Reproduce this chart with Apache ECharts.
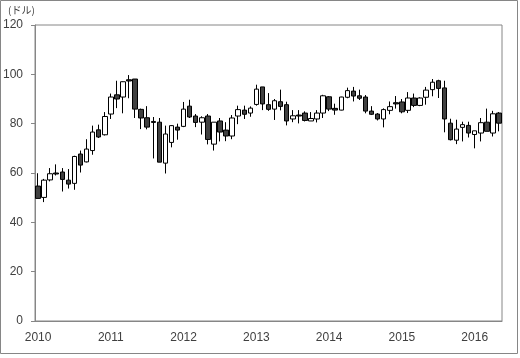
<!DOCTYPE html>
<html><head><meta charset="utf-8">
<script src="https://cdn.jsdelivr.net/npm/echarts@6/dist/echarts.min.js"></script>
<style>html,body{margin:0;padding:0;background:#fff}#c{width:520px;height:358px}</style>
</head><body><div id="c"></div>
<script>
const months = [];
for (let y = 2010; y <= 2016; y++) for (let m = 1; m <= 12; m++) { if (y === 2016 && m > 5) break; months.push(y + '/' + m); }
// [open, close, low, high]
const open  = [54.7,50.1,57.2,60.0,60.4,57.1,55.8,67.7,64.5,69.1,77.5,75.5,
               83.9,91.7,90.8,97.8,98.1,85.8,82.4,80.9,80.6,64.0,72.4,78.6,
               78.9,87.1,83.1,80.6,83.1,71.7,81.1,77.4,75.0,83.1,85.5,84.3,
               87.8,94.9,87.7,85.9,88.9,87.7,81.9,83.5,84.3,81.1,81.9,84.3,
               90.9,86.2,85.5,90.7,93.2,91.3,90.8,85.1,83.9,81.9,85.4,88.5,
               88.8,85.4,90.4,87.4,90.7,93.8,97.4,94.5,80.2,73.3,78.5,79.3,
               75.6,76.2,80.6,76.2,84.3];
const close = [49.7,57.1,59.7,59.6,57.4,55.5,66.7,63.2,69.7,76.6,74.6,82.9,
               90.8,90.0,97.0,97.3,85.9,82.3,78.6,80.5,64.4,75.8,79.2,77.4,
               85.9,82.7,80.5,82.4,73.6,80.6,76.6,75.0,82.3,85.7,83.8,86.3,
               94.0,88.0,85.8,89.3,87.0,81.1,83.2,83.1,81.3,82.1,84.3,91.3,
               85.9,85.5,90.8,93.4,91.2,90.3,85.1,83.8,81.9,85.7,86.9,88.0,
               84.8,90.4,87.4,90.4,93.6,96.8,94.3,81.9,73.5,77.8,79.6,76.2,
               77.1,80.4,76.9,84.0,80.2];
const low   = [49.7,48.2,56.6,59.0,52.5,53.7,53.2,60.2,64.3,67.4,74.2,75.2,
               81.9,86.3,84.2,90.3,82.3,77.8,77.7,65.9,64.4,59.8,70.4,73.5,
               78.6,82.3,78.6,75.6,71.6,69.1,72.8,72.9,73.7,79.8,81.9,82.8,
               87.3,85.5,85.2,81.5,85.4,79.3,80.6,80.1,80.9,81.1,80.5,82.3,
               85.1,83.6,85.4,90.3,89.0,89.6,84.2,83.5,81.3,78.5,83.8,86.1,
               84.2,84.3,86.7,87.1,87.7,91.1,90.4,76.5,73.2,71.7,72.8,74.4,
               70.0,72.8,76.9,74.8,76.9];
const high  = [59.9,57.6,62.0,63.5,62.0,61.6,67.0,69.1,73.7,79.2,79.6,84.7,
               92.2,97.4,97.1,99.7,98.1,86.1,87.1,82.7,82.3,79.2,79.4,80.0,
               88.8,89.7,83.9,83.0,83.9,80.6,82.3,80.6,83.5,87.3,87.3,87.0,
               95.8,94.9,92.4,90.0,93.8,88.9,85.5,85.5,85.0,84.7,85.5,91.7,
               91.2,88.1,90.9,94.6,94.9,93.8,91.6,87.1,84.3,86.2,89.0,91.2,
               90.0,92.8,92.2,90.7,94.9,98.1,97.8,97.4,82.0,81.6,80.8,80.8,
               77.1,82.3,86.1,85.2,84.7];
const yTicks = [0, 20, 40, 60, 80, 100, 120];

const ohlc = months.map((m, i) => [open[i], close[i], low[i], high[i]]);
const chart = echarts.init(document.getElementById('c'));
const labelFont = 'Liberation Sans, Arial, sans-serif';
chart.setOption({
  animation: false,
  backgroundColor: '#fff',
  graphic: [
    { type: 'rect', shape: { x: 0.5, y: 0.5, width: 517, height: 353 }, style: { fill: 'none', stroke: '#868686', lineWidth: 1 }, silent: true },
    { type: 'text', left: 8, top: 5, style: { text: '(ドル)', font: '10px "Noto Sans CJK JP", sans-serif', fill: '#404040' } }
  ],
  grid: { left: 35, right: 18, top: 25, bottom: 37, show: true, borderColor: '#868686', borderWidth: 1, backgroundColor: 'transparent' },
  xAxis: {
    type: 'category', data: months, boundaryGap: true,
    axisLine: { lineStyle: { color: '#868686' } },
    axisTick: { show: false },
    axisLabel: {
      interval: (i) => i % 12 === 0,
      formatter: (v) => v.split('/')[0],
      color: '#404040', fontSize: 12, fontFamily: labelFont, margin: 11
    },
    splitLine: { show: false }
  },
  yAxis: {
    type: 'value', min: yTicks[0], max: yTicks[yTicks.length - 1], interval: 20,
    axisLine: { show: true, lineStyle: { color: '#868686' } },
    axisTick: { show: true, length: 4, lineStyle: { color: '#868686' } },
    axisLabel: { color: '#404040', fontSize: 12, fontFamily: labelFont, margin: 12 },
    splitLine: { show: false }
  },
  series: [{
    type: 'candlestick',
    data: ohlc,
    barWidth: 5,
    itemStyle: {
      color: '#ffffff', color0: '#404040',
      borderColor: '#000000', borderColor0: '#000000', borderWidth: 1
    }
  }]
});
</script></body></html>
